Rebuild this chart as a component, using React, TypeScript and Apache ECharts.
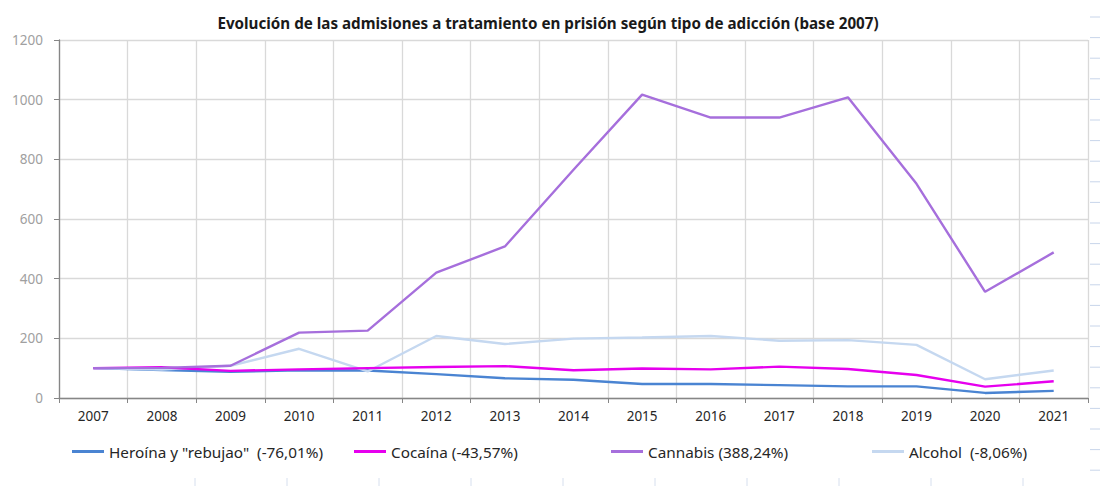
import React, { useEffect, useRef } from "react";
import * as echarts from "echarts";

const years = ["2007","2008","2009","2010","2011","2012","2013","2014","2015","2016","2017","2018","2019","2020","2021"];
const heroina = [100, 94, 88, 93, 92, 80, 66, 61, 47, 47, 43, 39, 39, 17, 24];
const cocaina = [100, 103, 91, 96, 100, 104, 107, 93, 99, 96, 105, 97, 77, 38, 56];
const cannabis = [100, 101, 108, 219, 226, 420, 508, 765, 1017, 940, 940, 1008, 718, 356, 488];
const alcohol = [100, 95, 108, 165, 89, 208, 181, 199, 203, 208, 192, 194, 178, 63, 92];

const seriesNames = [
  'Heroína y "rebujao"  (-76,01%)',
  "Cocaína (-43,57%)",
  "Cannabis (388,24%)",
  "Alcohol  (-8,06%)",
];
const seriesColors = ["#4a84d2", "#e600ee", "#a66fdc", "#c5d8f0"];
const seriesData = [heroina, cocaina, cannabis, alcohol];

export default function App() {
  const ref = useRef<HTMLDivElement>(null);
  useEffect(() => {
    if (!ref.current) return;
    const chart = echarts.init(ref.current, null, { renderer: "svg" });
    const font = "Noto Sans";
    const legendLefts = [67, 349, 606, 867];
    const deco: any[] = [];
    for (let i = 0; i < 23; i++) {
      const y = 17 + i * 20.6;
      deco.push({ type: "line", shape: { x1: 1090, y1: y, x2: 1100, y2: y }, style: { stroke: "#c8d5ea", lineWidth: 1 }, silent: true });
    }
    for (let i = 0; i < 10; i++) {
      const x = 195 + i * 92;
      deco.push({ type: "line", shape: { x1: x, y1: 478, x2: x, y2: 486 }, style: { stroke: "#d6dfee", lineWidth: 1 }, silent: true });
    }
    chart.setOption({
      animation: false,
      backgroundColor: "#ffffff",
      title: {
        text: "Evolución de las admisiones a tratamiento en prisión según tipo de adicción (base 2007)",
        left: 543,
        textAlign: "center",
        top: 10,
        textStyle: { fontFamily: font, fontSize: 15.2, fontWeight: "bold", color: "#1a1a1a" },
      },
      legend: seriesNames.map((n, i) => ({
        data: [{ name: n, icon: "rect" }],
        left: legendLefts[i],
        top: 439,
        itemWidth: 32,
        itemHeight: 3,
        itemGap: 0,
        textStyle: { fontFamily: font, fontSize: 15.3, color: "#262626" },
      })),
      grid: { left: 59, right: 12, top: 40, bottom: 88, containLabel: false },
      xAxis: {
        type: "category",
        data: years,
        boundaryGap: true,
        axisLine: { lineStyle: { color: "#868686", width: 1.3 } },
        axisTick: { show: true, length: 5, lineStyle: { color: "#868686" } },
        axisLabel: { fontFamily: font, fontSize: 13.5, color: "#262626", margin: 11 },
        splitLine: { show: true, lineStyle: { color: "#d9d9d9", width: 1.3 } },
      },
      yAxis: {
        type: "value",
        min: 0,
        max: 1200,
        interval: 200,
        axisLine: { show: true, lineStyle: { color: "#868686", width: 1.3 } },
        axisTick: { show: true, length: 5, lineStyle: { color: "#868686" } },
        axisLabel: { fontFamily: font, fontSize: 13.5, color: "#a0a0a0", margin: 16, formatter: (v: number) => String(v) },
        splitLine: { show: true, lineStyle: { color: "#d9d9d9", width: 1.3 } },
      },
      graphic: deco,
      series: seriesNames.map((n, i) => ({
        name: n,
        type: "line",
        data: seriesData[i],
        symbol: "none",
        showSymbol: false,
        color: seriesColors[i],
        lineStyle: { color: seriesColors[i], width: 2.4 },
        z: 2 + (i === 3 ? 0 : i),
      })),
    });
    return () => chart.dispose();
  }, []);
  return (
    <div
      ref={ref}
      style={{ position: "fixed", left: 0, top: 0, width: 1100, height: 486 }}
    />
  );
}
